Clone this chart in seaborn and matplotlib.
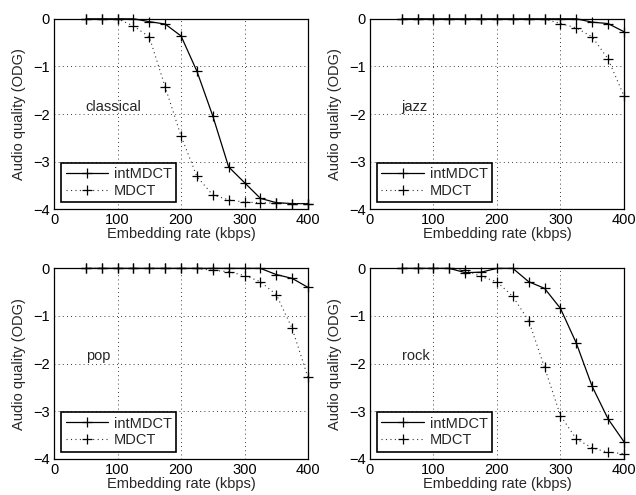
import numpy as np
import pandas as pd
import matplotlib
matplotlib.use("Agg")
import matplotlib.pyplot as plt
import seaborn as sns

# Embedding rates (kbps)
rates = [50, 75, 100, 125, 150, 175, 200, 225, 250, 275, 300, 325, 350, 375, 400]

# Audio quality (ODG)
classical_int = [0, 0, 0, 0, -0.06, -0.11, -0.36, -1.10, -2.04, -3.11, -3.44, -3.77, -3.86, -3.88, -3.88]
classical_mdct = [0, 0, 0, -0.15, -0.38, -1.43, -2.46, -3.31, -3.70, -3.80, -3.85, -3.86, -3.87, -3.88, -3.88]
jazz_int = [0, 0, 0, 0, 0, 0, 0, 0, 0, 0, 0, 0, -0.07, -0.10, -0.27]
jazz_mdct = [0, 0, 0, 0, 0, 0, 0, 0, 0, 0, -0.10, -0.19, -0.38, -0.84, -1.62]
pop_int = [0, 0, 0, 0, 0, 0, 0, 0, 0, 0, 0, 0, -0.13, -0.21, -0.40]
pop_mdct = [0, 0, 0, 0, 0, 0, 0, 0, -0.04, -0.07, -0.15, -0.28, -0.55, -1.26, -2.29]
rock_int = [0, 0, 0, 0, -0.09, -0.08, 0, 0, -0.28, -0.42, -0.84, -1.57, -2.48, -3.16, -3.64]
rock_mdct = [0, 0, 0, 0, -0.04, -0.17, -0.28, -0.59, -1.10, -2.08, -3.09, -3.58, -3.77, -3.86, -3.89]

genres = ["classical", "jazz", "pop", "rock"]
int_data = [classical_int, jazz_int, pop_int, rock_int]
mdct_data = [classical_mdct, jazz_mdct, pop_mdct, rock_mdct]

sns.set_style("white")
plt.rcParams['font.family'] = ['Liberation Sans', 'DejaVu Sans']
fs = 10.5

fig, axes = plt.subplots(2, 2, figsize=(6.36, 4.95), dpi=100)
fig.subplots_adjust(left=0.085, right=0.981, bottom=0.073, top=0.962,
                    wspace=0.244, hspace=0.31)

for ax, genre, y_int, y_mdct in zip(axes.flat, genres, int_data, mdct_data):
    df = pd.DataFrame({"rate": rates, "int": y_int, "mdct": y_mdct})
    sns.lineplot(data=df, x="rate", y="int", ax=ax, color="black", lw=0.9,
                 marker="+", markersize=7, mew=0.9, mec="black",
                 label="intMDCT", clip_on=False)
    sns.lineplot(data=df, x="rate", y="mdct", ax=ax, color="#333333", lw=0.8,
                 linestyle=(0, (1, 3)), marker="+", markersize=7, mew=0.9,
                 mec="black", label="MDCT", clip_on=False)
    ax.set_xlim(0, 400)
    ax.set_ylim(-4, 0)
    ax.set_xticks([0, 100, 200, 300, 400])
    ax.set_yticks([0, -1, -2, -3, -4])
    ax.grid(True, color="black", linestyle=(0, (1, 4)), linewidth=0.6)
    ax.tick_params(direction="in", length=3, colors="black", labelsize=fs, pad=3)
    for sp in ax.spines.values():
        sp.set_color("black")
        sp.set_linewidth(0.9)
    ax.set_xlabel("Embedding rate (kbps)", fontsize=fs, labelpad=0)
    ax.set_ylabel("Audio quality (ODG)", fontsize=fs, labelpad=5)
    ax.text(50, -1.85, genre, fontsize=fs, va="center", ha="left")
    leg = ax.legend(loc="lower left", bbox_to_anchor=(0.028, 0.037), fancybox=False,
                    framealpha=1, edgecolor="black", fontsize=fs, numpoints=1,
                    borderpad=0.3, labelspacing=0.2, handlelength=2.9,
                    handletextpad=0.4, borderaxespad=0)
    leg.get_frame().set_linewidth(1.2)

fig.savefig("out.png", dpi=100)
